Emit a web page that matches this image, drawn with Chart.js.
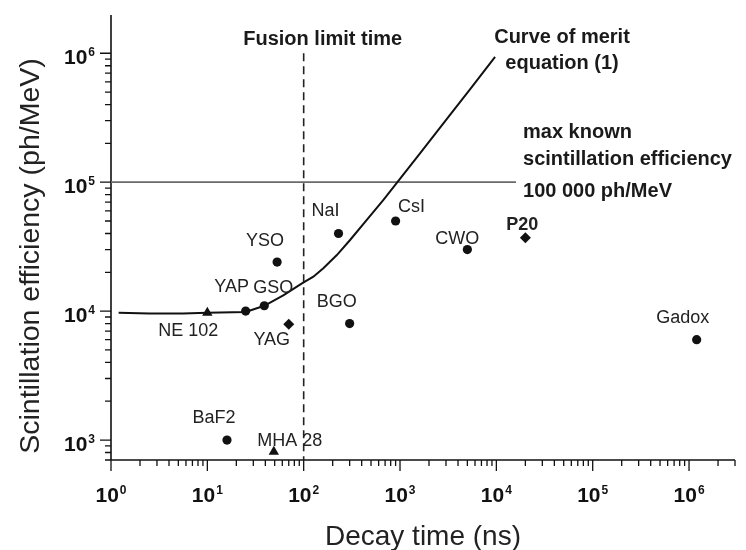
<!DOCTYPE html>
<html>
<head>
<meta charset="utf-8">
<script src="https://cdn.jsdelivr.net/npm/chart.js@4.4.1/dist/chart.umd.min.js"></script>
<style>
  html, body { margin: 0; padding: 0; background: #fff; }
  #wrap { width: 746px; height: 550px; position: relative; }
</style>
</head>
<body>
<div id="wrap"><canvas id="c" width="746" height="550"></canvas></div>
<script>
// Scintillators: decay time (ns) vs scintillation efficiency (ph/MeV)
const circleNames = ['YAP', 'GSO', 'YSO', 'NaI', 'BGO', 'CsI', 'CWO', 'Gadox', 'BaF2'];
const circleDecay = [25, 39, 53, 230, 300, 900, 5000, 1.2e6, 16];
const circleEff   = [10000, 11000, 24000, 40000, 8000, 50000, 30000, 6000, 1000];

const triangleNames = ['NE 102', 'MHA 28'];
const triangleDecay = [10, 49];
const triangleEff   = [9700, 810];

const diamondNames = ['YAG', 'P20'];
const diamondDecay = [70, 20000];
const diamondEff   = [7900, 37000];

// Curve of merit, equation (1)
const meritDecay = [1.2, 2.5, 5.6, 10, 25, 39, 62, 96, 126, 160, 221, 303, 452, 673, 926, 1620, 2940, 5350, 9700];
const meritEff   = [9700, 9600, 9600, 9700, 9850, 11000, 13300, 16400, 18500, 21500, 27200, 35600, 51000, 73000, 98600, 168000, 297000, 526000, 936000];

// Reference lines
const fusionLimitTime = 100;          // ns
const fusionLineSpan = [700, 1e6];    // ph/MeV
const maxKnownEff = 100000;           // ph/MeV
const maxKnownSpan = [1, 16000];      // ns

// Axis ranges and decades
const xRange = [1, 3e6];
const yRange = [700, 1.98e6];
const xDecades = [0, 1, 2, 3, 4, 5, 6];
const yDecades = [3, 4, 5, 6];

// Label placement around each marker (pixels from the marker centre)
const labelOffsets = {
  'YAP': [-14, -24], 'GSO': [9, -18], 'YSO': [-12, -21], 'NaI': [-13, -22],
  'BGO': [-13, -22], 'CsI': [16, -14], 'CWO': [-10, -11], 'Gadox': [-14, -22],
  'BaF2': [-13, -22], 'NE 102': [-19, 18], 'MHA 28': [16, -11],
  'YAG': [-17, 16], 'P20': [-3, -13]
};

const pts = (xs, ys) => xs.map((x, i) => ({ x: x, y: ys[i] }));
const FONT = '"Liberation Sans", Arial, Helvetica, sans-serif';

function drawPower(ctx, exp, left, base, baseSize, expSize) {
  ctx.font = 'bold ' + baseSize + 'px ' + FONT;
  ctx.textAlign = 'left';
  ctx.textBaseline = 'alphabetic';
  ctx.fillText('10', left, base);
  const w = ctx.measureText('10').width;
  ctx.font = 'bold ' + expSize + 'px ' + FONT;
  ctx.fillText(String(exp), left + w + 1, base - 8);
}
function powerWidth(ctx, exp, baseSize, expSize) {
  ctx.font = 'bold ' + baseSize + 'px ' + FONT;
  const w = ctx.measureText('10').width;
  ctx.font = 'bold ' + expSize + 'px ' + FONT;
  return w + 1 + ctx.measureText(String(exp)).width;
}

// Axes with major/minor log ticks, tick labels and titles
const axesPlugin = {
  id: 'logAxes',
  beforeDatasetsDraw(chart) {
    const ctx = chart.ctx, xs = chart.scales.x, ys = chart.scales.y, a = chart.chartArea;
    ctx.save();
    ctx.strokeStyle = '#111';
    ctx.lineWidth = 1.6;
    ctx.beginPath();
    ctx.moveTo(a.left, a.top); ctx.lineTo(a.left, a.bottom);
    ctx.moveTo(a.left, a.bottom); ctx.lineTo(a.right, a.bottom);
    ctx.stroke();
    ctx.lineWidth = 1.3;
    ctx.beginPath();
    for (let d = 0; d <= 6; d++) {
      for (let m = 1; m <= 9; m++) {
        const v = m * Math.pow(10, d);
        if (v < xRange[0] || v > xRange[1] * 1.0001) continue;
        const px = xs.getPixelForValue(v);
        ctx.moveTo(px, a.bottom); ctx.lineTo(px, a.bottom + (m === 1 ? 11 : 6));
      }
    }
    for (let d = 2; d <= 6; d++) {
      for (let m = 1; m <= 9; m++) {
        const v = m * Math.pow(10, d);
        if (v < yRange[0] || v > yRange[1]) continue;
        const py = ys.getPixelForValue(v);
        ctx.moveTo(a.left, py); ctx.lineTo(a.left - (m === 1 ? 11 : 6), py);
      }
    }
    ctx.stroke();
    ctx.fillStyle = '#111';
    xDecades.forEach(d => {
      const px = xs.getPixelForValue(Math.pow(10, d));
      const w = powerWidth(ctx, d, 21, 12);
      drawPower(ctx, d, px - w / 2, a.bottom + 42, 21, 12);
    });
    yDecades.forEach(d => {
      const py = ys.getPixelForValue(Math.pow(10, d));
      const w = powerWidth(ctx, d, 21, 12);
      drawPower(ctx, d, a.left - 16 - w, py + 10.5, 21, 12);
    });
    ctx.fillStyle = '#222';
    ctx.textAlign = 'center';
    ctx.textBaseline = 'alphabetic';
    ctx.font = '28px ' + FONT;
    ctx.fillText('Decay time (ns)', 423, 545);
    ctx.save();
    ctx.translate(38.5, 256);
    ctx.rotate(-Math.PI / 2);
    ctx.font = '28.5px ' + FONT;
    ctx.fillText('Scintillation efficiency (ph/MeV)', 0, 0);
    ctx.restore();
    ctx.restore();
  },
  afterDatasetsDraw(chart) {
    const ctx = chart.ctx, xs = chart.scales.x, ys = chart.scales.y;
    ctx.save();
    ctx.textAlign = 'center';
    ctx.textBaseline = 'middle';
    ctx.fillStyle = '#222';
    const groups = [[circleNames, circleDecay, circleEff], [triangleNames, triangleDecay, triangleEff], [diamondNames, diamondDecay, diamondEff]];
    groups.forEach(([names, xsv, ysv]) => {
      names.forEach((n, i) => {
        const off = labelOffsets[n];
        ctx.font = (n === 'P20' ? 'bold ' : '') + '18px ' + FONT;
        ctx.fillText(n, xs.getPixelForValue(xsv[i]) + off[0], ys.getPixelForValue(ysv[i]) + off[1]);
      });
    });
    // Annotations
    ctx.fillStyle = '#1a1a1a';
    ctx.font = 'bold 20px ' + FONT;
    ctx.fillText('Fusion limit time', xs.getPixelForValue(fusionLimitTime) + 19, 39);
    ctx.fillText('Curve of merit', 562, 37);
    ctx.fillText('equation (1)', 562, 63);
    ctx.textAlign = 'left';
    const mx = xs.getPixelForValue(maxKnownSpan[1]) + 7;
    const my = ys.getPixelForValue(maxKnownEff);
    ctx.fillText('max known', mx, my - 50);
    ctx.fillText('scintillation efficiency', mx, my - 23);
    ctx.fillText('100 000 ph/MeV', mx, my + 9);
    ctx.restore();
  }
};

new Chart(document.getElementById('c'), {
  type: 'scatter',
  data: {
    datasets: [
      { label: 'circles', data: pts(circleDecay, circleEff), pointStyle: 'circle', pointRadius: 4.6,
        backgroundColor: '#111', borderColor: '#111', borderWidth: 0 },
      { label: 'triangles', data: pts(triangleDecay, triangleEff), pointStyle: 'triangle', pointRadius: 6,
        backgroundColor: '#111', borderColor: '#111', borderWidth: 0 },
      { label: 'diamonds', data: pts(diamondDecay, diamondEff), pointStyle: 'rectRot', pointRadius: 5.5,
        backgroundColor: '#111', borderColor: '#111', borderWidth: 0 },
      { label: 'Curve of merit', data: pts(meritDecay, meritEff), showLine: true, pointRadius: 0,
        borderColor: '#111', borderWidth: 2, tension: 0, fill: false },
      { label: 'Fusion limit time', data: [{ x: fusionLimitTime, y: fusionLineSpan[1] }, { x: fusionLimitTime, y: fusionLineSpan[0] }],
        showLine: true, pointRadius: 0, borderColor: '#222', borderWidth: 1.6, borderDash: [8, 5], fill: false },
      { label: 'max known', data: [{ x: maxKnownSpan[0], y: maxKnownEff }, { x: maxKnownSpan[1], y: maxKnownEff }],
        showLine: true, pointRadius: 0, borderColor: '#6a6a6a', borderWidth: 1.8, fill: false }
    ]
  },
  options: {
    responsive: false,
    devicePixelRatio: 1,
    animation: false,
    layout: { padding: { left: 111, right: 11, top: 15, bottom: 90 } },
    plugins: { legend: { display: false }, tooltip: { enabled: false } },
    scales: {
      x: { type: 'logarithmic', min: xRange[0], max: xRange[1], display: false },
      y: { type: 'logarithmic', min: yRange[0], max: yRange[1], display: false }
    }
  },
  plugins: [axesPlugin]
});
</script>
</body>
</html>
